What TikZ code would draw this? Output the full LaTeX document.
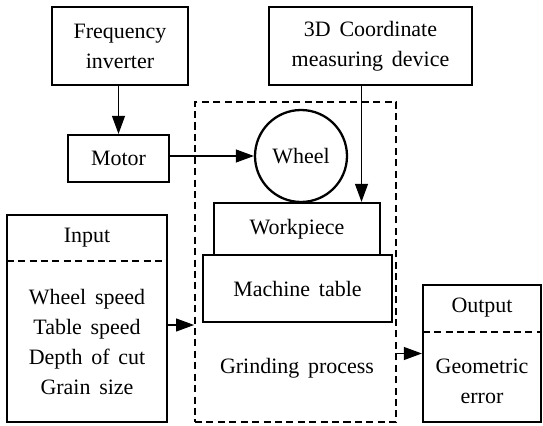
\documentclass[tikz,border=0pt]{standalone}
\usepackage{fontspec}
\setmainfont{Liberation Serif}[WordSpace=1.6]
\usetikzlibrary{positioning,arrows.meta}

\begin{document}
\begin{tikzpicture}
    [x=0.02cm,y=-0.02cm,font=\fontsize{12.5}{17}\selectfont,
     every node/.style={align=center, inner sep=0pt},
     box/.style={draw, line width=1.3pt, rectangle},
     wire/.style={line width=0.6pt, -{Triangle[length=0.36cm,width=0.26cm]}},
     divider/.style={line width=1.1pt, dash pattern=on 4pt off 2.5pt}]
  \useasboundingbox (0,0) rectangle (543,425);

  % grinding process frame
  \node[draw, divider, minimum width=4.02cm, minimum height=6.4cm] (proc) at (295.5,262) {};
  \node (gp) at (297,368) {Grinding process};

  \node[box, minimum width=2.72cm, minimum height=1.56cm] (inv) at (120,46) {Frequency\\inverter};
  \node[box, minimum width=4.06cm, minimum height=1.56cm] (cmm) at (370.5,46) {3D Coordinate\\measuring device};
  \node[box, minimum width=2.02cm, minimum height=0.94cm] (motor) at (118.5,158.5) {Motor};
  \node[box, circle, minimum size=1.84cm] (wheel) at (301,156) {Wheel};
  \node[box, minimum width=3.32cm, minimum height=1.04cm] (wp) at (297,229) {Workpiece};
  \node[box, minimum width=3.78cm, minimum height=1.34cm] (table) at (297.5,288.5) {Machine table};

  % input block
  \node[box, minimum width=3.2cm, minimum height=4.14cm] (input) at (87,318.5) {};
  \node[anchor=north, minimum width=3.2cm, minimum height=0.92cm] (inhead) at (input.north) {Input};
  \draw[divider] (inhead.south west) -- (inhead.south east);
  \node (inbody) at (87,342) {Wheel speed\\Table speed\\Depth of cut\\Grain size};

  % output block
  \node[box, minimum width=2.36cm, minimum height=2.74cm] (out) at (482,353.5) {};
  \node[anchor=north, minimum width=2.36cm, minimum height=0.94cm] (outhead) at (out.north) {Output};
  \draw[divider] (outhead.south west) -- (outhead.south east);
  \node (outbody) at (482,381) {Geometric\\error};

  \draw[wire] (motor.north |- inv.south) -- (motor.north);
  \draw[wire] (motor.east |- wheel.west) -- (wheel.west);
  \draw[wire] ([xshift=-0.18cm]cmm.south) -- ([xshift=-0.18cm]cmm.south |- wp.north);
  \draw[wire] ([yshift=-0.13cm]input.east) -- ([yshift=-0.13cm]input.east -| proc.west);
  \draw[wire] (proc.east |- out.west) -- (out.west);
\end{tikzpicture}
\end{document}
